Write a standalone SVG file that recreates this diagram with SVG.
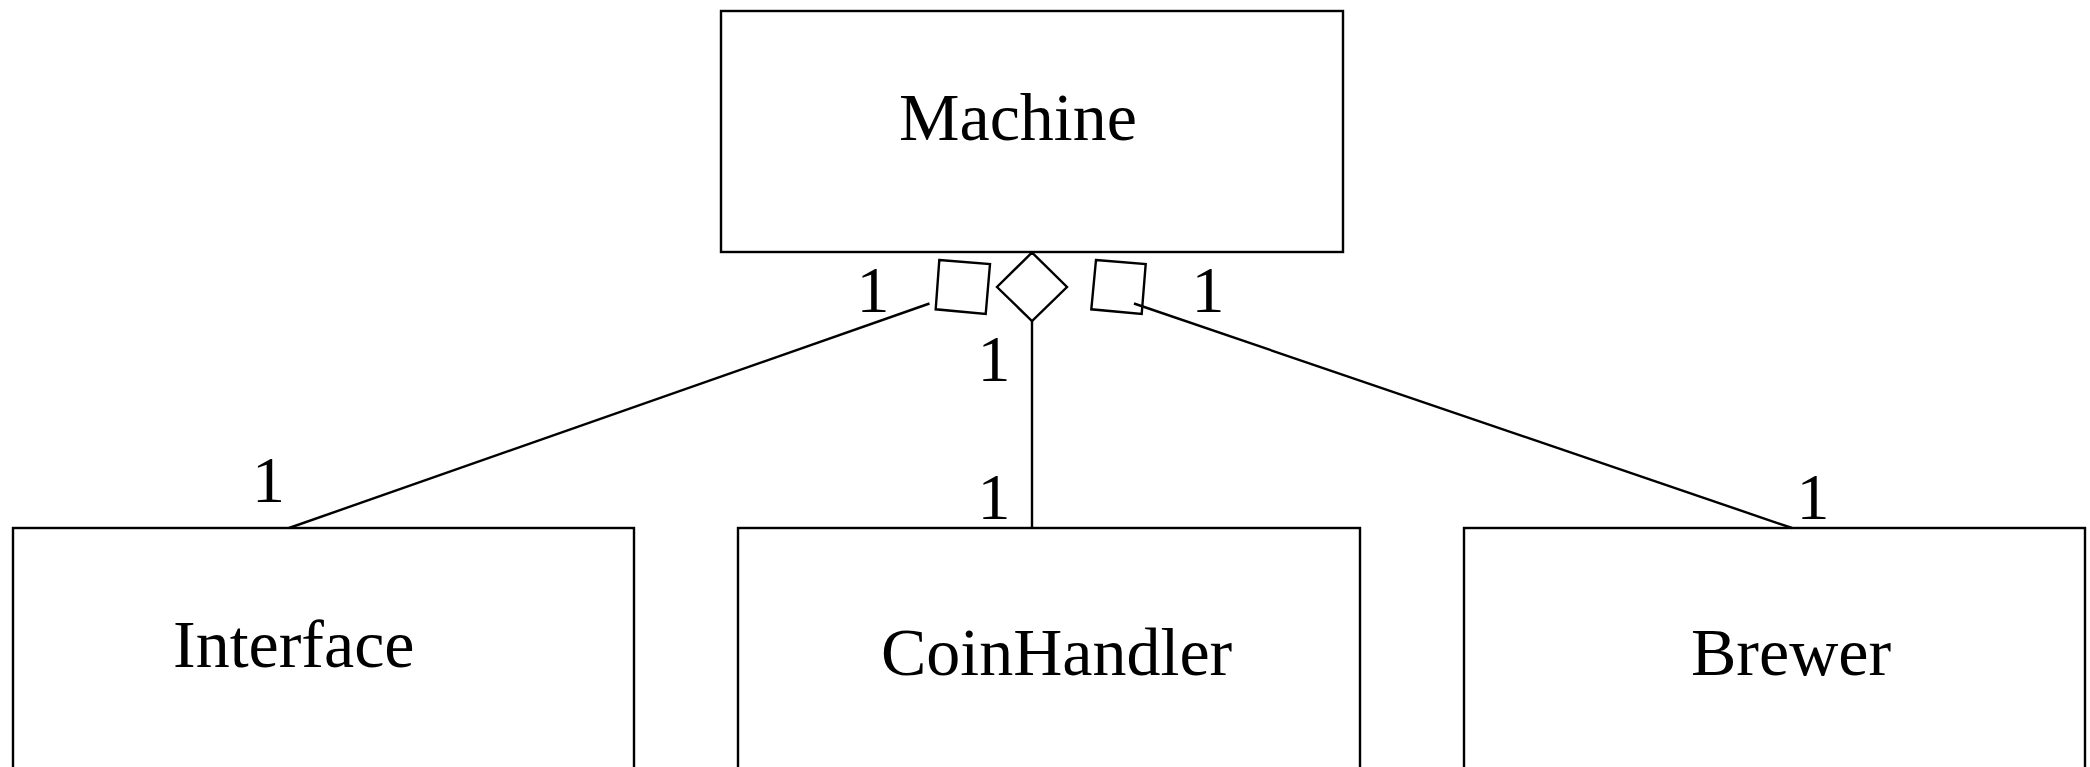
<svg xmlns="http://www.w3.org/2000/svg" width="2090" height="767" viewBox="0 0 2090 767">
<style>
.box{fill:#fff;stroke:#000;stroke-width:2.4}
.lbl{font-family:"Liberation Serif","Times New Roman",serif;font-size:68px;fill:#000}
.mult{font-family:"Liberation Serif","Times New Roman",serif;font-size:66px;fill:#000;text-anchor:middle}
.ln{fill:none;stroke:#000;stroke-width:2.4}
</style>
<rect width="2090" height="767" fill="#fff"/>
<g id="Machine">
<rect class="box" x="721" y="11" width="622" height="241"/>
<text class="lbl" x="899" y="140">Machine</text>
</g>
<g id="Interface">
<rect class="box" x="13" y="528" width="621" height="245"/>
<text class="lbl" x="173" y="667">Interface</text>
</g>
<g id="CoinHandler">
<rect class="box" x="738" y="528" width="622" height="245"/>
<text class="lbl" x="881" y="675">CoinHandler</text>
</g>
<g id="Brewer">
<rect class="box" x="1464" y="528" width="621" height="245"/>
<text class="lbl" x="1691" y="675">Brewer</text>
</g>
<g id="connectors">
<line class="ln" x1="289" y1="528" x2="929.5" y2="303.5"/>
<line class="ln" x1="1032" y1="321" x2="1032" y2="528"/>
<line class="ln" x1="1134" y1="303.5" x2="1792" y2="528"/>
<polygon class="ln" points="939.3,260 990,264 985.7,314 935.7,309.3"/>
<polygon class="ln" points="1096,260 1145.7,264 1141.7,314 1091.3,309.3"/>
<polygon class="ln" points="1032,252.5 1067,287 1032,321 997,287"/>
<text class="mult" x="873" y="312">1</text>
<text class="mult" x="1208" y="312">1</text>
<text class="mult" x="994" y="381">1</text>
<text class="mult" x="268.5" y="502">1</text>
<text class="mult" x="994" y="519">1</text>
<text class="mult" x="1813" y="519">1</text>
</g>
</svg>
